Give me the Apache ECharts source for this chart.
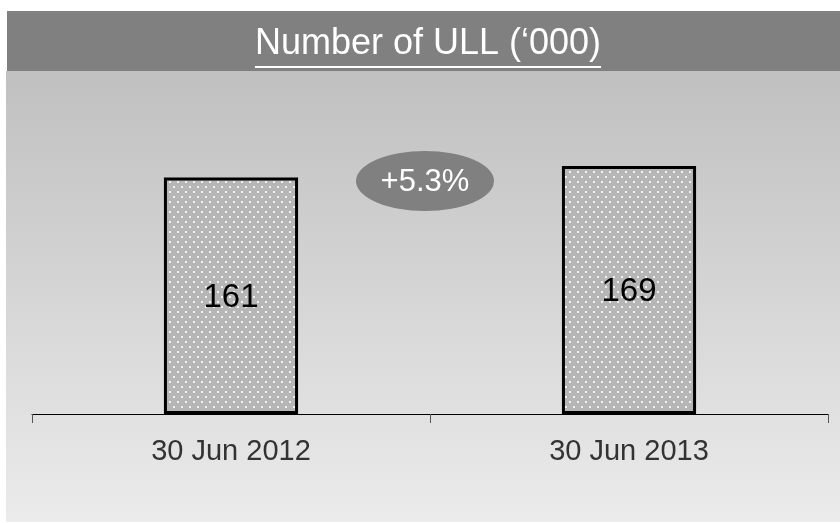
<!DOCTYPE html>
<html>
<head>
<meta charset="utf-8">
<script src="https://cdn.jsdelivr.net/npm/echarts@6/dist/echarts.min.js"></script>
<style>
  html, body { margin: 0; padding: 0; background: #ffffff; }
  #chart { width: 840px; height: 523px; }
</style>
</head>
<body>
<div id="chart"></div>
<script>
const titleText = "Number of ULL (\u2018000)";
const categories = ["30 Jun 2012", "30 Jun 2013"];
const values = [161, 169];
const growthLabel = "+5.3%";

const FONT = "'Liberation Sans', Arial, sans-serif";

// dotted fill like the original bars
function dotPattern() {
  const c = document.createElement("canvas");
  c.width = 8;
  c.height = 10;
  const ctx = c.getContext("2d");
  ctx.fillStyle = "#b6b6b6";
  ctx.fillRect(0, 0, 8, 10);
  ctx.fillStyle = "#f2f2f2";
  ctx.fillRect(1, 1, 2, 2);
  ctx.fillRect(5, 6, 2, 2);
  return c;
}

function textWidth(text, font) {
  const ctx = document.createElement("canvas").getContext("2d");
  ctx.font = font;
  return ctx.measureText(text).width;
}

const chart = echarts.init(document.getElementById("chart"));
const titleSize = 36;
const titleW = textWidth(titleText, `${titleSize}px ${FONT}`);
const titleX = 428;

chart.setOption({
  animation: false,
  backgroundColor: "#ffffff",
  graphic: [
    {
      type: "rect",
      z: -10,
      shape: { x: 6, y: 71, width: 834, height: 451 },
      style: {
        fill: new echarts.graphic.LinearGradient(0, 0, 0, 1, [
          { offset: 0, color: "#c0c0c0" },
          { offset: 1, color: "#ebebeb" },
        ]),
      },
    },
    {
      type: "rect",
      z: -10,
      shape: { x: 7, y: 11, width: 833, height: 60 },
      style: { fill: "#808080" },
    },
    {
      type: "text",
      style: {
        x: titleX,
        y: 44,
        text: titleText,
        fill: "#ffffff",
        font: `${titleSize}px ${FONT}`,
        align: "center",
        verticalAlign: "middle",
      },
    },
    {
      type: "line",
      shape: { x1: titleX - titleW / 2, y1: 67, x2: titleX + titleW / 2, y2: 67 },
      style: { stroke: "#ffffff", lineWidth: 2 },
    },
    {
      type: "group",
      x: 425,
      y: 181,
      children: [
        {
          type: "circle",
          shape: { cx: 0, cy: 0, r: 30 },
          scaleX: 69 / 30,
          style: { fill: "#808080" },
        },
        {
          type: "text",
          style: {
            x: 0,
            y: 1,
            text: growthLabel,
            fill: "#ffffff",
            font: `31px ${FONT}`,
            align: "center",
            verticalAlign: "middle",
          },
        },
      ],
    },
  ],
  grid: { left: 32, right: 12, top: 91, bottom: 109 },
  xAxis: {
    type: "category",
    data: categories,
    boundaryGap: true,
    axisLine: { lineStyle: { color: "#000000", width: 1 } },
    axisTick: { show: true, length: 9, lineStyle: { color: "#555555" } },
    axisLabel: { color: "#333333", fontSize: 29, fontFamily: FONT, margin: 23 },
  },
  yAxis: {
    type: "value",
    min: 0,
    max: 220,
    show: false,
    splitLine: { show: false },
  },
  series: [
    {
      type: "bar",
      data: values,
      barWidth: "33.7%",
      itemStyle: {
        color: { image: dotPattern(), repeat: "repeat" },
        borderColor: "#000000",
        borderWidth: 3,
      },
      label: {
        show: true,
        position: "inside",
        offset: [0, 2],
        color: "#000000",
        fontSize: 33,
        fontFamily: FONT,
      },
      z: 3,
    },
  ],
});
</script>
</body>
</html>
